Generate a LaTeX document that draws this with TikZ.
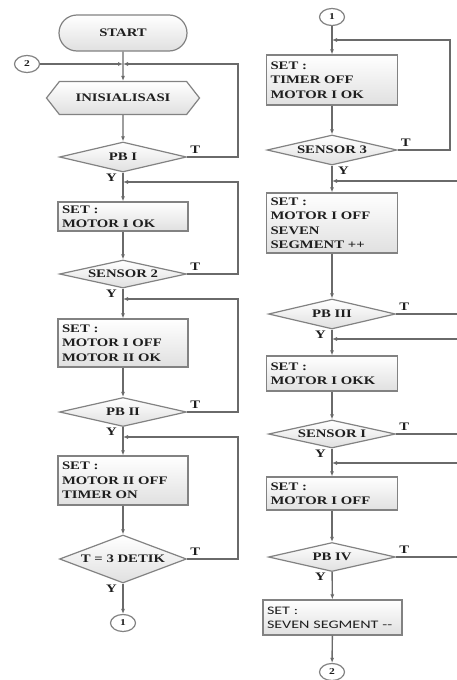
\documentclass[tikz,border=0pt]{standalone}
\usepackage{fontspec}
\setmainfont{Liberation Serif}[FakeStretch=1.28]
\newfontfamily\calfont{Carlito}[FakeStretch=1.4]
\usetikzlibrary{arrows.meta, positioning, shapes.geometric, shapes.symbols, shapes.misc}
\definecolor{lngray}{HTML}{6A6A6A}
\definecolor{bdgray}{HTML}{828282}
\definecolor{txgray}{HTML}{1E1E1E}
\definecolor{shdgray}{HTML}{E0E0E0}

\begin{document}
\begin{tikzpicture}[x=1pt, y=-1pt, >={Latex[length=5pt, width=4pt]},
  flow/.style={draw=lngray, line width=1.4pt},
  shp/.style={draw=bdgray, line width=1.2pt, top color=white, bottom color=shdgray,
    text=txgray, font=\fontsize{11.5}{14.5}\selectfont\bfseries, inner sep=0pt},
  term/.style={shp, rounded rectangle, minimum width=128pt, minimum height=36pt},
  prep/.style={shp, signal, signal to=west and east, signal pointer angle=104,
    minimum width=153pt, minimum height=33pt},
  dec/.style={shp, diamond, aspect=4.2, minimum width=127pt, minimum height=30pt},
  proc/.style={shp, rectangle, align=left, text width=122pt, inner xsep=4pt, minimum width=130pt},
  conn/.style={draw=bdgray, line width=1.2pt, ellipse, fill=white, minimum width=25pt,
    minimum height=17pt, inner sep=0pt, text=txgray, font=\fontsize{9}{9}\selectfont\bfseries},
  lbl/.style={text=txgray, font=\fontsize{11.5}{11.5}\selectfont\bfseries, inner sep=1pt}
]

% Frame
\useasboundingbox (0,0) rectangle (457,680);
\fill[white] (0,0) rectangle (457,680);
\clip (0,0) rectangle (457,680);

%% LEFT COLUMN
\node[term] (start) at (123,33) {START};
\node[conn] (con2a) at (27,64) {2};
\node[prep] (init) at (123,98) {INISIALISASI};
\node[dec] (pb1) at (123,157) {PB I};
\node[proc, minimum height=29pt] (set1) at (123,216.5) {SET :\\MOTOR I OK};
\node[dec, minimum height=28pt] (sen2) at (123,274) {SENSOR 2};
\node[proc, minimum height=48pt] (set2) at (123,343) {SET :\\MOTOR I OFF\\MOTOR II OK};
\node[dec, minimum height=29pt] (pb2) at (123,412) {PB II};
\node[proc, minimum height=49pt] (set3) at (123,480.5) {SET :\\MOTOR II OFF\\TIMER ON};
\node[dec, aspect=2.6, minimum height=48pt] (t3) at (123,559) {T = 3 DETIK};
\node[conn] (con1a) at (123,623) {1};

% merge points and loop rail
\coordinate (m0) at (123,64);
\coordinate (m1) at (123,182);
\coordinate (m2) at (123,299);
\coordinate (m3) at (123,437);
\coordinate (rxl) at (238,0);

% main flow
\draw[flow, ->] (start) -- (init);
\draw[flow, ->] (con2a) -- (m0);
\draw[flow, ->] (init) -- (pb1);
\draw[flow, ->] (pb1) -- (set1);
\draw[flow, ->] (set1) -- (sen2);
\draw[flow, ->] (sen2) -- (set2);
\draw[flow, ->] (set2) -- (pb2);
\draw[flow, ->] (pb2) -- (set3);
\draw[flow, ->] (set3) -- (t3);
\draw[flow, ->] (t3) -- (con1a);

% loops (T)
\draw[flow, ->] (pb1.east) -- (pb1.east -| rxl) |- (m0);
\draw[flow, ->] (sen2.east) -- (sen2.east -| rxl) |- (m1);
\draw[flow, ->] (pb2.east) -- (pb2.east -| rxl) |- (m2);
\draw[flow, ->] (t3.east) -- (t3.east -| rxl) |- (m3);

% labels
\node[lbl, above right=3pt] at (pb1.east) {T};
\node[lbl, below left=0pt and 5pt] at (pb1.south) {Y};
\node[lbl, above right=3pt] at (sen2.east) {T};
\node[lbl, below left=0pt and 5pt] at (sen2.south) {Y};
\node[lbl, above right=3pt] at (pb2.east) {T};
\node[lbl, below left=0pt and 5pt] at (pb2.south) {Y};
\node[lbl, above right=3pt] at (t3.east) {T};
\node[lbl, below left=0pt and 5pt] at (t3.south) {Y};

%% RIGHT COLUMN
\node[conn] (con1b) at (332,17) {1};
\node[proc, minimum height=50pt, text width=123pt, minimum width=131pt] (set4) at (332,80)
  {SET :\\TIMER OFF\\MOTOR I OK};
\node[dec, minimum width=130pt] (sen3) at (332,150) {SENSOR 3};
\node[proc, minimum height=60pt, text width=123pt, minimum width=131pt] (set5) at (332,223)
  {SET :\\MOTOR I OFF\\SEVEN\\SEGMENT ++};
\node[dec] (pb3) at (332,314) {PB III};
\node[proc, minimum height=35pt, text width=123pt, minimum width=131pt] (set6) at (332,373.5)
  {SET :\\MOTOR I OKK};
\node[dec, minimum height=28pt] (sen1) at (332,434) {SENSOR I};
\node[proc, minimum height=33pt, text width=123pt, minimum width=131pt] (set7) at (332,493.5)
  {SET :\\MOTOR I OFF};
\node[dec, minimum height=29pt] (pb4) at (332,557) {PB IV};
\node[proc, minimum height=35pt, text width=131pt, minimum width=139pt,
      font=\calfont\fontsize{11.5}{14}\selectfont] (set8) at (332.5,617.5)
  {SET :\\SEVEN SEGMENT --};
\node[conn] (con2b) at (332,672) {2};

% merge points and loop rails
\coordinate (m4) at (332,40);
\coordinate (m5) at (332,181);
\coordinate (m6) at (332,339);
\coordinate (m7) at (332,463);
\coordinate (rxr) at (450,0);
\coordinate (rxo) at (470,0);

% main flow
\draw[flow, ->] (con1b) -- (set4);
\draw[flow, ->] (set4) -- (sen3);
\draw[flow, ->] (sen3) -- (set5);
\draw[flow, ->] (set5) -- (pb3);
\draw[flow, ->] (pb3) -- (set6);
\draw[flow, ->] (set6) -- (sen1);
\draw[flow, ->] (sen1) -- (set7);
\draw[flow, ->] (set7) -- (pb4);
\draw[flow, ->] (pb4) -- (set8);
\draw[flow, ->] (set8) -- (con2b);

% loops (T), outer ones run past the edge
\draw[flow, ->] (sen3.east) -- (sen3.east -| rxr) |- (m4);
\draw[flow, ->] (pb3.east) -- (pb3.east -| rxo) |- (m5);
\draw[flow, ->] (sen1.east) -- (sen1.east -| rxo) |- (m6);
\draw[flow, ->] (pb4.east) -- (pb4.east -| rxo) |- (m7);

% labels
\node[lbl, above right=3pt] at (sen3.east) {T};
\node[lbl, below right=0pt and 5pt] at (sen3.south) {Y};
\node[lbl, above right=3pt] at (pb3.east) {T};
\node[lbl, below left=0pt and 5pt] at (pb3.south) {Y};
\node[lbl, above right=3pt] at (sen1.east) {T};
\node[lbl, below left=0pt and 5pt] at (sen1.south) {Y};
\node[lbl, above right=3pt] at (pb4.east) {T};
\node[lbl, below left=0pt and 5pt] at (pb4.south) {Y};

\end{tikzpicture}
\end{document}
